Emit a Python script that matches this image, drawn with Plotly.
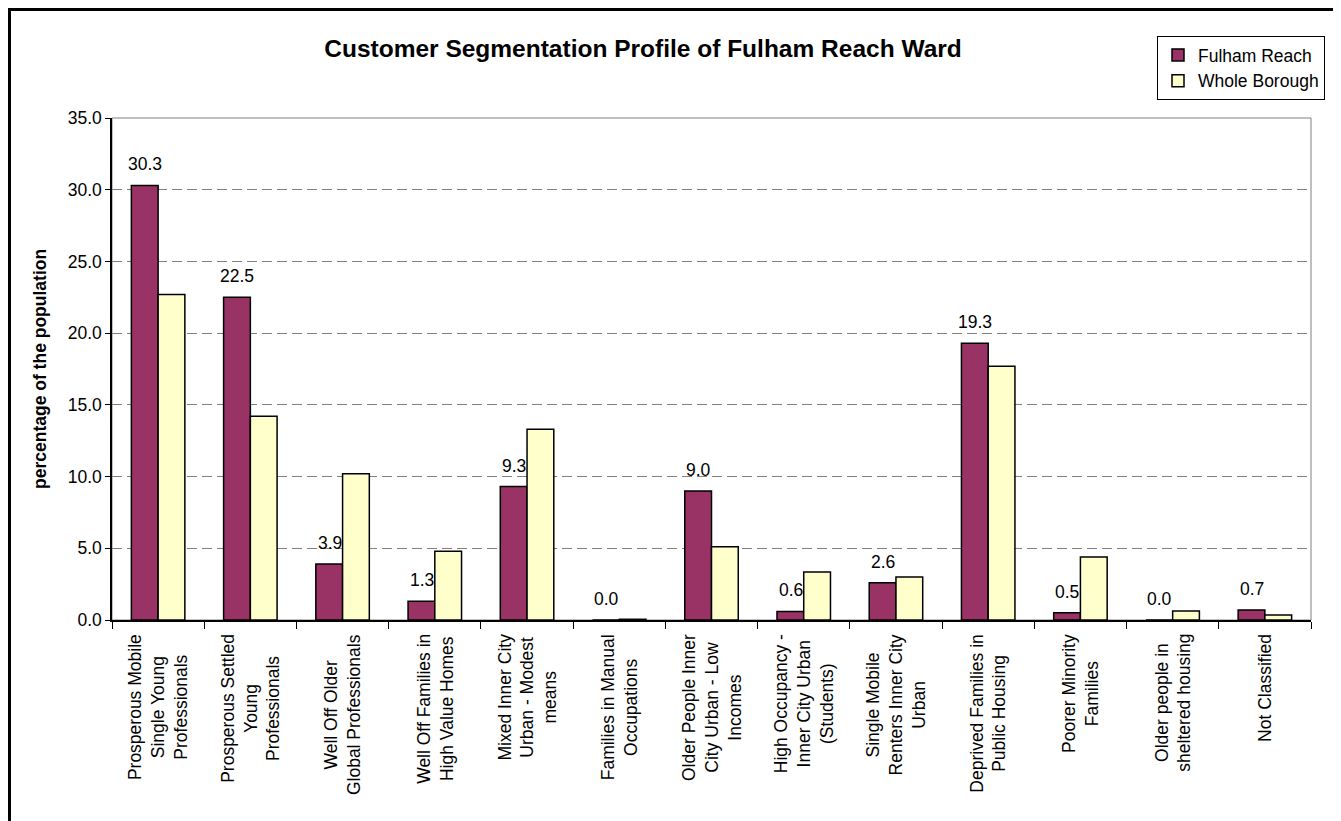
import plotly.graph_objects as go

categories = [
    "Prosperous Mobile<br>Single Young<br>Professionals",
    "Prosperous Settled<br>Young<br>Professionals",
    "Well Off Older<br>Global Professionals",
    "Well Off Families in<br>High Value Homes",
    "Mixed Inner City<br>Urban - Modest<br>means",
    "Families in Manual<br>Occupations",
    "Older People Inner<br>City Urban - Low<br>Incomes",
    "High Occupancy -<br>Inner City Urban<br>(Students)",
    "Single Mobile<br>Renters Inner City<br>Urban",
    "Deprived Families in<br>Public Housing",
    "Poorer Minority<br>Families",
    "Older people in<br>sheltered housing",
    "Not Classified",
]
fulham_reach = [30.3, 22.5, 3.9, 1.3, 9.3, 0.0, 9.0, 0.6, 2.6, 19.3, 0.5, 0.0, 0.7]
whole_borough = [22.7, 14.2, 10.2, 4.8, 13.3, 0.05, 5.1, 3.35, 3.0, 17.7, 4.4, 0.62, 0.35]
y_ticks = [0, 5, 10, 15, 20, 25, 30, 35]

FONT = "Liberation Sans, Arial, sans-serif"
FS = 17.5

# the page body adds an 8px offset, so the figure is laid out 8px smaller
OFF = 8
W, H = 1341 - OFF, 821 - OFF
ML, MR, MT = 112 - OFF, 30, 118 - OFF
MB = H - (620 - OFF)
PW = W - ML - MR
PH = H - MT - MB

fig = go.Figure()
fig.add_trace(go.Bar(
    name="Fulham Reach", x=categories, y=fulham_reach,
    marker=dict(color="#993366", line=dict(color="black", width=1.5)),
))
fig.add_trace(go.Bar(
    name="Whole Borough", x=categories, y=whole_borough,
    marker=dict(color="#FFFFCC", line=dict(color="black", width=1.5)),
))

annotations = []
# value labels above Fulham Reach bars
for c, v in zip(categories, fulham_reach):
    annotations.append(dict(
        x=c, y=v, xref="x", yref="y", text=f"{v:.1f}", showarrow=False,
        xanchor="center", yanchor="bottom", xshift=-13, yshift=9,
        font=dict(family=FONT, size=FS, color="black"),
    ))
# category labels
for c in categories:
    annotations.append(dict(
        x=c, y=0, xref="x", yref="y", text=c, showarrow=False,
        textangle=-90, align="center", xanchor="center", yanchor="top",
        yshift=-12, font=dict(family=FONT, size=FS, color="black"),
    ))
# y axis title
annotations.append(dict(
    x=(40 - OFF - ML) / PW, y=0.5, xref="paper", yref="paper",
    text="<b>percentage of the population</b>", showarrow=False,
    textangle=-90, xanchor="center", yanchor="middle",
    font=dict(family=FONT, size=FS, color="black"),
))

shapes = [
    # plot area frame (grey)
    dict(type="rect", xref="paper", yref="paper", x0=0, x1=1, y0=0, y1=1,
         line=dict(color="#808080", width=1), layer="below"),
    # outer chart border
    dict(type="rect", xref="paper", yref="paper",
         x0=(1.5 - ML) / PW, x1=(1336.5 - OFF - ML) / PW,
         y0=(H - MB - 840) / PH, y1=(H - MB - 1.5) / PH,
         line=dict(color="black", width=3), layer="above"),
]

fig.update_layout(
    width=W, height=H,
    margin=dict(l=ML, r=MR, t=MT, b=MB, pad=0),
    paper_bgcolor="white", plot_bgcolor="white",
    barmode="group", bargap=0.42, bargroupgap=0,
    font=dict(family=FONT, size=FS, color="black"),
    title=dict(
        text="<b>Customer Segmentation Profile of Fulham Reach Ward</b>",
        xref="container", yref="container", x=(643 - OFF) / W, y=1 - (48 - OFF) / H,
        xanchor="center", yanchor="middle",
        font=dict(family=FONT, size=24.5, color="black"),
    ),
    legend=dict(
        x=(1157 - OFF - ML) / PW, y=(H - MB - (36 - OFF)) / PH,
        xanchor="left", yanchor="top",
        bordercolor="black", borderwidth=1, bgcolor="white",
        font=dict(family=FONT, size=FS, color="black"),
        tracegroupgap=0, itemwidth=30,
    ),
    xaxis=dict(
        type="category", showticklabels=False, tickson="boundaries",
        ticks="outside", ticklen=7, tickcolor="black", tickwidth=1,
        showline=True, linecolor="black", linewidth=1.5,
        showgrid=False, zeroline=False,
    ),
    yaxis=dict(
        range=[0, 35], tickvals=y_ticks, tickformat=".1f",
        ticks="outside", ticklen=5, tickcolor="black", tickwidth=1,
        showline=True, linecolor="black", linewidth=1.5,
        showgrid=True, gridcolor="#808080", gridwidth=1, griddash="10px,5px",
        zeroline=False,
        tickfont=dict(family=FONT, size=FS, color="black"),
    ),
    annotations=annotations,
    shapes=shapes,
    showlegend=True,
)

fig.write_html("out.html")
